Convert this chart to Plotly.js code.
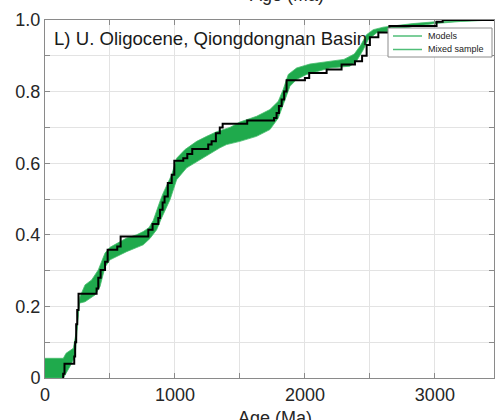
<!DOCTYPE html>
<html>
<head>
<meta charset="utf-8">
<script src="https://cdn.plot.ly/plotly-3.0.1.min.js"></script>
<style>
  html, body { margin: 0; padding: 0; background: #fff; }
  #chart { width: 495px; height: 420px; }
</style>
</head>
<body>
<div id="chart"></div>
<script>
// Envelope of the model CDFs (lower and upper bounds of the bundle)
const modelLowerAge = [0, 141, 192, 231, 255, 264, 308, 385, 423, 462, 500, 628, 756, 808, 859, 897, 962, 1013, 1090, 1192, 1295, 1346, 1397, 1500, 1628, 1731, 1795, 1846, 1885, 1936, 2013, 2192, 2346, 2397, 2449, 2487, 2551, 2731, 2831, 3000, 3200, 3455];
const modelLowerCdf = [0, 0, 0.032, 0.06, 0.17, 0.209, 0.213, 0.232, 0.255, 0.31, 0.33, 0.353, 0.372, 0.39, 0.414, 0.447, 0.498, 0.554, 0.587, 0.61, 0.633, 0.643, 0.652, 0.661, 0.675, 0.694, 0.726, 0.778, 0.815, 0.834, 0.848, 0.866, 0.871, 0.885, 0.917, 0.945, 0.964, 0.973, 0.982, 0.99, 0.996, 1.0];

const modelUpperAge = [0, 141, 162, 218, 243, 269, 308, 359, 410, 462, 500, 590, 628, 705, 756, 800, 833, 885, 910, 975, 1013, 1077, 1167, 1244, 1321, 1423, 1500, 1628, 1731, 1795, 1833, 1872, 1936, 2038, 2192, 2300, 2380, 2430, 2474, 2526, 2603, 2731, 2831, 3000, 3200, 3455];
const modelUpperCdf = [0.055, 0.055, 0.069, 0.083, 0.134, 0.227, 0.26, 0.274, 0.302, 0.349, 0.365, 0.383, 0.391, 0.40, 0.409, 0.42, 0.44, 0.494, 0.517, 0.568, 0.614, 0.638, 0.661, 0.675, 0.688, 0.70, 0.715, 0.731, 0.75, 0.773, 0.806, 0.848, 0.866, 0.877, 0.885, 0.89, 0.905, 0.93, 0.959, 0.973, 0.98, 0.986, 0.99, 0.995, 0.998, 1.0];

// Mixed sample empirical CDF (value reached at each step)
const sampleAge = [138, 140, 150, 225, 232, 240, 248, 258, 397, 410, 428, 462, 482, 556, 582, 795, 828, 872, 885, 905, 920, 945, 975, 995, 1064, 1095, 1133, 1256, 1282, 1315, 1345, 1367, 1556, 1762, 1782, 1800, 1821, 1840, 1859, 2000, 2033, 2167, 2282, 2385, 2440, 2475, 2500, 2565, 2650, 3013, 3060, 3455];
const sampleCdf = [0, 0.012, 0.04, 0.06, 0.10, 0.15, 0.19, 0.235, 0.25, 0.28, 0.302, 0.325, 0.358, 0.367, 0.395, 0.414, 0.43, 0.447, 0.47, 0.49, 0.507, 0.545, 0.568, 0.607, 0.614, 0.626, 0.64, 0.652, 0.661, 0.684, 0.70, 0.71, 0.719, 0.726, 0.74, 0.76, 0.778, 0.80, 0.832, 0.838, 0.852, 0.862, 0.876, 0.885, 0.90, 0.93, 0.952, 0.965, 0.983, 0.995, 1.0, 1.0];

// Axis ticks
const xTickVals = [0, 500, 1000, 1500, 2000, 2500, 3000];
const xTickText = ['0', '', '1000', '', '2000', '', '3000'];
const yTickVals = [0, 0.1, 0.2, 0.3, 0.4, 0.5, 0.6, 0.7, 0.8, 0.9, 1.0];
const yTickText = ['0', '', '0.2', '', '0.4', '', '0.6', '', '0.8', '', '1.0'];

const legendNames = ['Models', 'Mixed sample'];
const panelLabel = 'L) U. Oligocene, Qiongdongnan Basin';
const axisTitle = 'Age (Ma)';

const FONT = 'Liberation Sans, Arial, Helvetica, sans-serif';
const BAND = 'rgb(31,170,76)';
const BAND_EDGE = 'rgb(70,188,108)';
const LEGEND_LINE = 'rgb(80,190,120)';

// plot area geometry (pixels)
const W = 495, H = 420, ML = 45, MR = 1, MT = 20, MB = 42;
const PW = W - ML - MR, PH = H - MT - MB;
const px = v => (v - ML) / PW;       // page x -> paper x
const py = v => (H - MB - v) / PH;   // page y -> paper y

const traces = [
  {
    x: modelLowerAge, y: modelLowerCdf, type: 'scatter', mode: 'lines',
    line: { color: BAND_EDGE, width: 0.8 }, showlegend: false, hoverinfo: 'skip'
  },
  {
    x: modelUpperAge, y: modelUpperCdf, type: 'scatter', mode: 'lines',
    fill: 'tonexty', fillcolor: BAND,
    line: { color: BAND_EDGE, width: 0.8 }, showlegend: false, hoverinfo: 'skip'
  },
  {
    x: sampleAge, y: sampleCdf, type: 'scatter', mode: 'lines',
    line: { color: '#000', width: 2, shape: 'hv' }, showlegend: false
  }
];

// legend box drawn as shapes + annotations
const legBox = { x0: 388, x1: 492, y0: 28, y1: 57 };
const legRows = [36, 49.5];

const shapes = [
  { type: 'rect', xref: 'paper', yref: 'paper', layer: 'above',
    x0: px(legBox.x0), x1: px(legBox.x1), y0: py(legBox.y1), y1: py(legBox.y0),
    line: { color: '#8c8c8c', width: 1 }, fillcolor: '#fff' }
];
const annotations = [
  { text: panelLabel, xref: 'paper', yref: 'paper', x: px(52), y: py(38),
    xanchor: 'left', yanchor: 'middle', showarrow: false,
    font: { family: FONT, size: 18.6, color: '#1a1a1a' } },
  // x-axis title, running off the bottom edge
  { text: axisTitle, xref: 'paper', yref: 'paper', x: px(275), y: py(418),
    xanchor: 'center', yanchor: 'middle', showarrow: false,
    font: { family: FONT, size: 18, color: '#262626' } },
  // axis title of the panel above, mostly outside the page
  { text: axisTitle, xref: 'paper', yref: 'paper', x: px(287), y: py(-5),
    xanchor: 'center', yanchor: 'middle', showarrow: false,
    font: { family: FONT, size: 18, color: '#262626' } }
];
legendNames.forEach((name, i) => {
  shapes.push({ type: 'line', xref: 'paper', yref: 'paper', layer: 'above',
    x0: px(393), x1: px(422), y0: py(legRows[i]), y1: py(legRows[i]),
    line: { color: LEGEND_LINE, width: 1.5 } });
  annotations.push({ text: name, xref: 'paper', yref: 'paper',
    x: px(426), y: py(legRows[i]), xanchor: 'left', yanchor: 'middle',
    showarrow: false, font: { family: FONT, size: 9, color: '#222' } });
});

const axisCommon = {
  showline: true, linecolor: '#8a8a8a', linewidth: 1, mirror: 'ticks',
  ticks: 'inside', ticklen: 5, tickcolor: '#8a8a8a', tickwidth: 1,
  showgrid: true, gridcolor: '#e3e3e3', gridwidth: 1, zeroline: false,
  tickfont: { family: FONT, size: 18, color: '#262626' }, tickmode: 'array'
};

const layout = {
  width: W, height: H,
  margin: { l: ML, r: MR, t: MT, b: MB, pad: 0 },
  paper_bgcolor: '#fff', plot_bgcolor: '#fff',
  showlegend: false,
  xaxis: Object.assign({}, axisCommon, {
    range: [0, 3455], tickvals: xTickVals, ticktext: xTickText, automargin: false
  }),
  yaxis: Object.assign({}, axisCommon, {
    range: [0, 1], tickvals: yTickVals, ticktext: yTickText, automargin: false
  }),
  shapes: shapes,
  annotations: annotations
};

Plotly.newPlot('chart', traces, layout, { displayModeBar: false, staticPlot: true });
</script>
</body>
</html>
